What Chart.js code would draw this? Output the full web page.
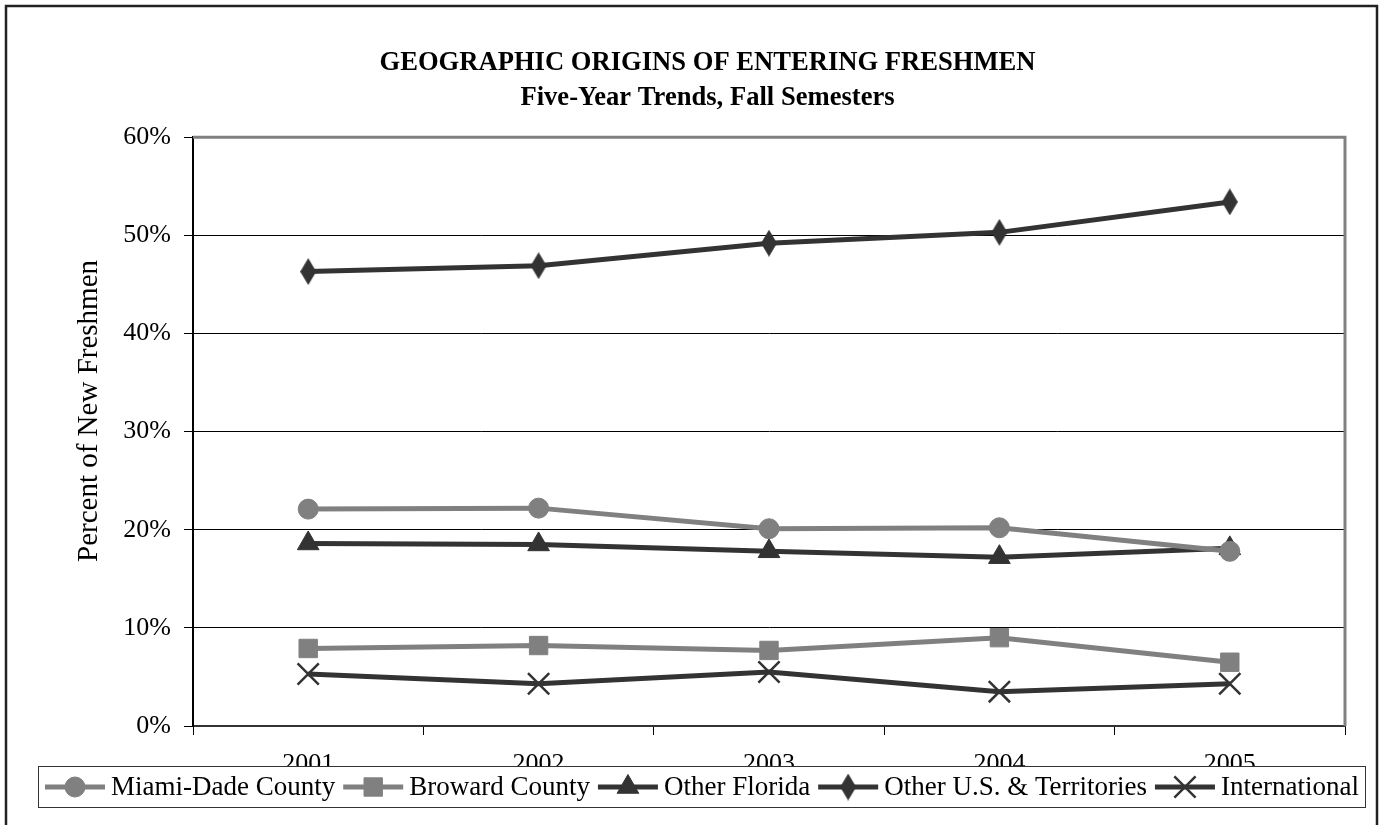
<!DOCTYPE html>
<html>
<head>
<meta charset="utf-8">
<script src="https://cdn.jsdelivr.net/npm/chart.js"></script>
<style>
  body { margin: 0; background: #fff; }
  #wrap { width: 1380px; height: 825px; }
</style>
</head>
<body>
<div id="wrap"><canvas id="grafica" width="1380" height="825"></canvas></div>
<script>
var fuente = '"Liberation Serif", "Times New Roman", serif';
var gris = "#808080";
var oscuro = "#333333";

var anios = ['2001', '2002', '2003', '2004', '2005'];
var miamiDade = [22.1, 22.2, 20.1, 20.2, 17.8];
var broward = [7.9, 8.2, 7.7, 9.0, 6.5];
var otraFlorida = [18.6, 18.5, 17.8, 17.2, 18.1];
var otroEEUU = [46.3, 46.9, 49.2, 50.3, 53.4];
var internacional = [5.3, 4.3, 5.5, 3.5, 4.3];
var ticksY = [0, 10, 20, 30, 40, 50, 60];
var tituloY = 'Percent of New Freshmen';

// rombo estrecho como el de Excel
function rombo(w, h, color) {
    var c = document.createElement('canvas');
    c.width = w; c.height = h;
    var g = c.getContext('2d');
    g.fillStyle = color;
    g.beginPath();
    g.moveTo(w / 2, 0); g.lineTo(w, h / 2); g.lineTo(w / 2, h); g.lineTo(0, h / 2);
    g.closePath(); g.fill();
    return c;
}

function serie(label, data, color, estilo, radio, bordePunto) {
    return {
        label: label,
        data: data,
        borderColor: color,
        backgroundColor: color,
        borderWidth: 5,
        pointStyle: estilo,
        pointRadius: radio,
        pointHoverRadius: radio,
        pointBackgroundColor: color,
        pointBorderColor: color,
        pointBorderWidth: bordePunto,
        tension: 0
    };
}

var datosGrafica = {
    labels: anios,
    datasets: [
        serie('Miami-Dade County', miamiDade, gris, 'circle', 10, 1),
        serie('Broward County', broward, gris, 'rect', 13, 1),
        serie('Other Florida', otraFlorida, oscuro, 'triangle', 12.5, 1),
        serie('Other U.S. & Territories', otroEEUU, oscuro, rombo(16, 27, oscuro), 13, 1),
        serie('International', internacional, oscuro, 'crossRot', 15, 2.5)
    ]
};

// fondo, marco exterior, borde gris y título del eje y
var marcos = {
    id: 'marcos',
    beforeDraw: function (chart) {
        var ctx = chart.ctx;
        ctx.save();
        ctx.fillStyle = '#fff';
        ctx.fillRect(0, 0, chart.width, chart.height);
        ctx.strokeStyle = '#222';
        ctx.lineWidth = 2.5;
        ctx.strokeRect(6, 6, 1371, 840);
        ctx.translate(89, 411);
        ctx.rotate(-Math.PI / 2);
        ctx.fillStyle = '#000';
        ctx.font = '29px ' + fuente;
        ctx.textAlign = 'center';
        ctx.textBaseline = 'middle';
        ctx.fillText(tituloY, 0, 0);
        ctx.restore();
    },
    beforeDatasetsDraw: function (chart) {
        var a = chart.chartArea, ctx = chart.ctx;
        ctx.save();
        ctx.strokeStyle = gris;
        ctx.lineWidth = 3;
        ctx.beginPath();
        ctx.moveTo(a.left, a.top);
        ctx.lineTo(a.right, a.top);
        ctx.lineTo(a.right, a.bottom);
        ctx.stroke();
        ctx.restore();
    }
};

// leyenda en caja, encima de las etiquetas del eje x
var leyenda = {
    id: 'leyenda',
    afterDraw: function (chart) {
        var ctx = chart.ctx;
        ctx.save();
        ctx.fillStyle = '#fff';
        ctx.fillRect(38, 766, 1327, 41);
        ctx.strokeStyle = '#333';
        ctx.lineWidth = 1;
        ctx.strokeRect(38.5, 766.5, 1327, 41);
        ctx.font = '27px ' + fuente;
        ctx.textBaseline = 'middle';
        var x = 45, y = 787;
        chart.data.datasets.forEach(function (ds) {
            ctx.strokeStyle = ds.borderColor;
            ctx.fillStyle = ds.borderColor;
            ctx.lineWidth = 5;
            ctx.beginPath();
            ctx.moveTo(x, y); ctx.lineTo(x + 60, y);
            ctx.stroke();
            ctx.lineWidth = ds.pointBorderWidth;
            Chart.helpers.drawPoint(ctx, {
                pointStyle: ds.pointStyle,
                radius: ds.pointRadius,
                rotation: 0,
                borderWidth: ds.pointBorderWidth
            }, x + 30, y);
            ctx.fillStyle = '#000';
            ctx.fillText(ds.label, x + 66, y + 1);
            x += 66 + ctx.measureText(ds.label).width + 8;
        });
        ctx.restore();
    }
};

var configuracion = {
    type: 'line',
    data: datosGrafica,
    plugins: [marcos, leyenda],
    options: {
        responsive: false,
        animation: false,
        layout: { padding: { left: 70, right: 35, top: 0, bottom: 29 } },
        plugins: {
            legend: { display: false },
            tooltip: { enabled: false },
            title: {
                display: true,
                text: ['GEOGRAPHIC ORIGINS OF ENTERING FRESHMEN', 'Five-Year Trends, Fall Semesters'],
                color: '#000',
                font: { family: fuente, size: 26.6, weight: 'bold', lineHeight: 1.3 },
                padding: { top: 46, bottom: 22 }
            }
        },
        scales: {
            x: {
                offset: true,
                grid: { display: true, drawOnChartArea: false, color: '#000', tickLength: 9, offset: true },
                border: { color: '#333', width: 2 },
                ticks: { color: '#000', font: { family: fuente, size: 26 }, padding: 14, maxRotation: 0 },
                afterFit: function (s) { s.height = 70; }
            },
            y: {
                min: 0,
                max: 60,
                afterBuildTicks: function (s) { s.ticks = ticksY.map(function (v) { return { value: v }; }); },
                grid: { color: '#000', lineWidth: 1, tickLength: 9 },
                border: { color: '#000', width: 2 },
                ticks: {
                    color: '#000',
                    font: { family: fuente, size: 26 },
                    padding: 13,
                    callback: function (v) { return v + '%'; }
                },
                afterFit: function (s) { s.width = 123; }
            }
        }
    }
};

var grafica = new Chart(document.getElementById('grafica'), configuracion);
</script>
</body>
</html>
